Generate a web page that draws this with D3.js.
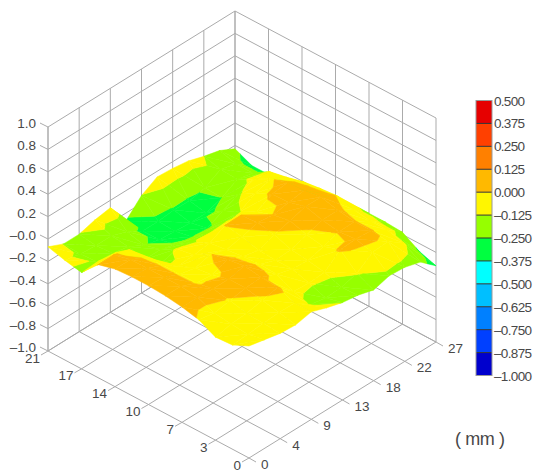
<!DOCTYPE html>
<html><head><meta charset="utf-8">
<style>html,body{margin:0;padding:0;background:#fff}svg{display:block}text{font-family:"Liberation Sans",Arial,sans-serif;fill:#484848}</style>
<script src="https://cdnjs.cloudflare.com/ajax/libs/d3/7.8.5/d3.min.js"></script>
</head><body><svg id="c" width="540" height="471"></svg>
<script>
const xTicks=[0,4.5,9,13.5,18,22.5,27];
const xTickLabels=["0","4","9","13","18","22","27"];
const yTicks=[0,3.5,7,10.5,14,17.5,21];
const yTickLabels=["0","3","7","10","14","17","21"];
const zTicks=[-1,-0.8,-0.6,-0.4,-0.2,0,0.2,0.4,0.6,0.8,1];
const zTickLabels=["–1.0","–0.8","–0.6","–0.4","–0.2","–0.0","0.2","0.4","0.6","0.8","1.0"];
const bandEdges=[-1,-0.875,-0.75,-0.625,-0.5,-0.375,-0.25,-0.125,0,0.125,0.25,0.375,0.5];
const bandLabels=["–1.000","–0.875","–0.750","–0.625","–0.500","–0.375","–0.250","–0.125","0.000","0.125","0.250","0.375","0.500"];
const bandColors=["#0000CD","#0040FF","#0080FF","#00BFFF","#00FFFF","#00FF40","#96FF00","#FFF600","#FFB900","#FF8000","#FF4000","#E60000"];
const xNodes=d3.range(0,13).map(i=>i*2.25);
const yNodes=d3.range(0,13).map(j=>j*1.75);
const zRows=[
[0,-.03,-.06,-.07,-.04,-.09,-.13,-.15,-.19,-.15,-.16,-.2,-.32],
[-.07,-.06,-.05,-.04,-.04,-.14,-.17,-.16,-.12,-.02,-.01,-.11,-.27],
[-.08,-.05,-.04,-.01,.02,-.105,-.115,-.105,.01,.02,.01,-.07,-.18],
[-.005,-.03,-.005,.02,.03,-.03,-.07,-.08,-.04,.005,.01,-.07,-.17],
[.03,.03,.02,.02,.05,-.02,-.07,-.06,-.015,.03,.03,-.05,-.17],
[.05,.05,-.008,-.02,.03,-.03,-.06,-.01,.03,.07,.07,-.005,-.2],
[.06,.05,-.01,-.04,-.002,-.05,-.02,.02,.002,.03,.05,-.02,-.22],
[.06,.05,-.01,-.1,-.09,-.07,.003,.005,-.05,.02,.04,-.04,-.25],
[.05,.05,-.02,-.15,-.115,-.14,-.15,-.14,-.13,-.05,-.01,-.08,-.28],
[.01,.01,-.03,-.2,-.2,-.24,-.26,-.27,-.2,-.14,-.09,-.11,-.28],
[-.14,-.13,-.14,-.17,-.24,-.28,-.29,-.3,-.3,-.25,-.17,-.2,-.3],
[-.11,-.14,-.15,-.15,-.2,-.28,-.28,-.265,-.27,-.24,-.16,-.2,-.3],
[-.07,-.13,-.13,-.09,-.066,-.27,-.13,-.05,-.06,-.08,-.125,-.16,-.23]
];
const svg=d3.select("#c");
const ox=249,oy=458;
const xToPx=d3.scaleLinear().domain([0,27]).range([0,187]);
const xToPy=d3.scaleLinear().domain([0,27]).range([0,-116]);
const yToPx=d3.scaleLinear().domain([0,21]).range([0,-201]);
const yToPy=d3.scaleLinear().domain([0,21]).range([0,-107]);
const zToPy=d3.scaleLinear().domain([-1,1]).range([0,-224]);
const P=(x,y,z)=>[ox+xToPx(x)+yToPx(y),oy+xToPy(x)+yToPy(y)+zToPy(z)];
const gridC="#ababab";
const seg=(g,a,b,c=gridC,w=1)=>g.append("line").attr("x1",a[0]).attr("y1",a[1]).attr("x2",b[0]).attr("y2",b[1]).attr("stroke",c).attr("stroke-width",w);
const grid=svg.append("g");
const X1=27,Y1=21,Z0=-1,Z1=1;
xTicks.forEach(x=>{seg(grid,P(x,0,Z0),P(x,Y1,Z0));seg(grid,P(x,Y1,Z0),P(x,Y1,Z1));
  const a=P(x,0,Z0);seg(grid,a,[a[0]+7,a[1]+4]);});
yTicks.forEach(y=>{seg(grid,P(0,y,Z0),P(X1,y,Z0));seg(grid,P(X1,y,Z0),P(X1,y,Z1));
  const a=P(0,y,Z0);seg(grid,a,[a[0]-7,a[1]+4]);});
zTicks.forEach(z=>{seg(grid,P(0,Y1,z),P(X1,Y1,z));seg(grid,P(X1,Y1,z),P(X1,0,z));
  const a=P(0,Y1,z);seg(grid,a,[a[0]-8,a[1]-4]);});
seg(grid,P(0,Y1,Z0),P(0,Y1,Z1));
const labels=svg.append("g").attr("font-size",13.5);
zTicks.forEach((z,i)=>{const a=P(0,Y1,z);labels.append("text").attr("x",a[0]-12).attr("y",a[1]+1).attr("text-anchor","end").text(zTickLabels[i]);});
xTicks.forEach((x,i)=>{const a=P(x,0,Z0);labels.append("text").attr("x",a[0]+12).attr("y",a[1]+11).attr("text-anchor","start").text(xTickLabels[i]);});
yTicks.forEach((y,i)=>{const a=P(0,y,Z0);labels.append("text").attr("x",a[0]-8).attr("y",a[1]+11.5).attr("text-anchor","end").text(yTickLabels[i]);});
function clip(poly,level,keepAbove){const out=[];for(let i=0;i<poly.length;i++){const a=poly[i],b=poly[(i+1)%poly.length];
  const ia=keepAbove?a[2]>=level:a[2]<=level,ib=keepAbove?b[2]>=level:b[2]<=level;
  if(ia)out.push(a);
  if(ia!==ib){const t=(level-a[2])/(b[2]-a[2]);out.push([a[0]+t*(b[0]-a[0]),a[1]+t*(b[1]-a[1]),level]);}}
  return out;}
const line=d3.line().x(d=>P(d[0],d[1],d[2])[0]).y(d=>P(d[0],d[1],d[2])[1]).curve(d3.curveLinearClosed);
const surf=svg.append("g");
const cells=[];
for(let j=0;j<12;j++)for(let i=0;i<12;i++)cells.push([i,j]);
cells.sort((a,b)=>(b[0]+b[1])-(a[0]+a[1]));
cells.forEach(([i,j])=>{
  const v=(a,b)=>[xNodes[a],yNodes[b],zRows[b][a]];
  const tris=[[v(i+1,j+1),v(i,j+1),v(i+1,j)],[v(i,j+1),v(i+1,j),v(i,j)]];
  tris.forEach(t=>{bandColors.forEach((col,k)=>{
    let p=clip(t,bandEdges[k],true);if(p.length<3)return;
    p=clip(p,bandEdges[k+1],false);if(p.length<3)return;
    surf.append("path").attr("d",line(p)).attr("fill",col).attr("stroke",col).attr("stroke-width",0.5).attr("stroke-linejoin","round");
  });});
});
const legTop=100.5,legBottom=375.5,legX=476,legW=16;
const legY=d3.scaleLinear().domain([-1,0.5]).range([legBottom,legTop]);
const leg=svg.append("g");
bandColors.forEach((c,k)=>{leg.append("rect").attr("x",legX).attr("width",legW).attr("y",legY(bandEdges[k+1])).attr("height",legY(bandEdges[k])-legY(bandEdges[k+1])).attr("fill",c);});
bandEdges.forEach((e,k)=>{const y=legY(e);
  if(k>0&&k<12)seg(leg,[legX,y],[legX+legW,y],"#333",1);
  leg.append("text").attr("x",legX+18).attr("y",y+5).attr("font-size",13.5).attr("textLength",bandLabels[k].startsWith("–")?38:31).text(bandLabels[k]);});
leg.append("rect").attr("x",legX).attr("y",legTop).attr("width",legW).attr("height",legBottom-legTop).attr("fill","none").attr("stroke","#999");
svg.append("text").attr("x",455).attr("y",445).attr("font-size",18).attr("textLength",50).text("( mm )");
</script></body></html>
